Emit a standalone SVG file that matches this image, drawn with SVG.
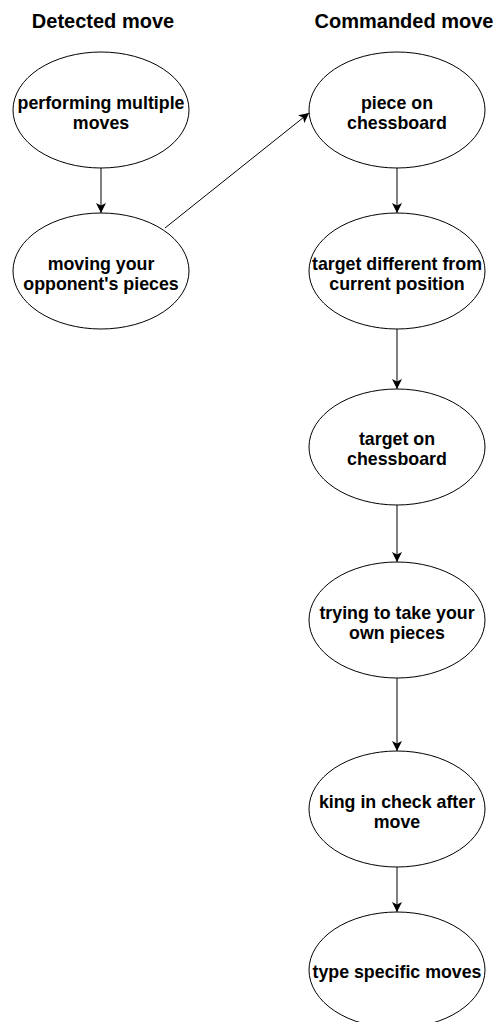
<svg xmlns="http://www.w3.org/2000/svg" width="497" height="1022" viewBox="0 0 497 1022">
<style>
.node ellipse{fill:#fff;stroke:#000;stroke-width:1}
.lbl{font-family:"Liberation Sans",Arial,sans-serif;font-weight:bold;font-size:17.8px;text-anchor:middle;fill:#000}
.title{font-family:"Liberation Sans",Arial,sans-serif;font-weight:bold;font-size:20px;text-anchor:middle;fill:#000}
.edge{stroke:#000;stroke-width:1;fill:none;marker-end:url(#arr)}
</style>
<defs>
<marker id="arr" viewBox="0 0 10 10" refX="10" refY="5" markerWidth="10" markerHeight="10" markerUnits="userSpaceOnUse" orient="auto">
<path d="M0,0 L10,5 L0,10 L2.5,5 z" fill="#000"/>
</marker>
</defs>
<rect width="497" height="1022" fill="#fff"/>
<text class="title" x="103" y="28">Detected move</text>
<text class="title" x="404" y="28">Commanded move</text>
<g id="connectors">
<line class="edge" x1="101" y1="168" x2="101" y2="213"/>
<line class="edge" x1="165" y1="228" x2="309" y2="113"/>
<line class="edge" x1="397" y1="168" x2="397" y2="213"/>
<line class="edge" x1="397" y1="329" x2="397" y2="389"/>
<line class="edge" x1="397" y1="505" x2="397" y2="562"/>
<line class="edge" x1="397" y1="678" x2="397" y2="751"/>
<line class="edge" x1="397" y1="867" x2="397" y2="912"/>
</g>
<g id="n-performing" class="node">
<ellipse cx="101" cy="110" rx="88" ry="58"/>
<text class="lbl" x="101" y="109">performing multiple</text>
<text class="lbl" x="101" y="129">moves</text>
</g>
<g id="n-opponent" class="node">
<ellipse cx="101" cy="271" rx="88" ry="58"/>
<text class="lbl" x="101" y="270">moving your</text>
<text class="lbl" x="101" y="290">opponent's pieces</text>
</g>
<g id="n-piece" class="node">
<ellipse cx="397" cy="110" rx="88" ry="58"/>
<text class="lbl" x="397" y="109">piece on</text>
<text class="lbl" x="397" y="129">chessboard</text>
</g>
<g id="n-target-diff" class="node">
<ellipse cx="397" cy="271" rx="88" ry="58"/>
<text class="lbl" x="397" y="270">target different from</text>
<text class="lbl" x="397" y="290">current position</text>
</g>
<g id="n-target-on" class="node">
<ellipse cx="397" cy="447" rx="88" ry="58"/>
<text class="lbl" x="397" y="445">target on</text>
<text class="lbl" x="397" y="465">chessboard</text>
</g>
<g id="n-own" class="node">
<ellipse cx="397" cy="620" rx="88" ry="58"/>
<text class="lbl" x="397" y="619">trying to take your</text>
<text class="lbl" x="397" y="639">own pieces</text>
</g>
<g id="n-king" class="node">
<ellipse cx="397" cy="809" rx="88" ry="58"/>
<text class="lbl" x="397" y="808">king in check after</text>
<text class="lbl" x="397" y="828">move</text>
</g>
<g id="n-type" class="node">
<ellipse cx="397" cy="970" rx="88" ry="58"/>
<text class="lbl" x="397" y="978">type specific moves</text>
</g>
</svg>
